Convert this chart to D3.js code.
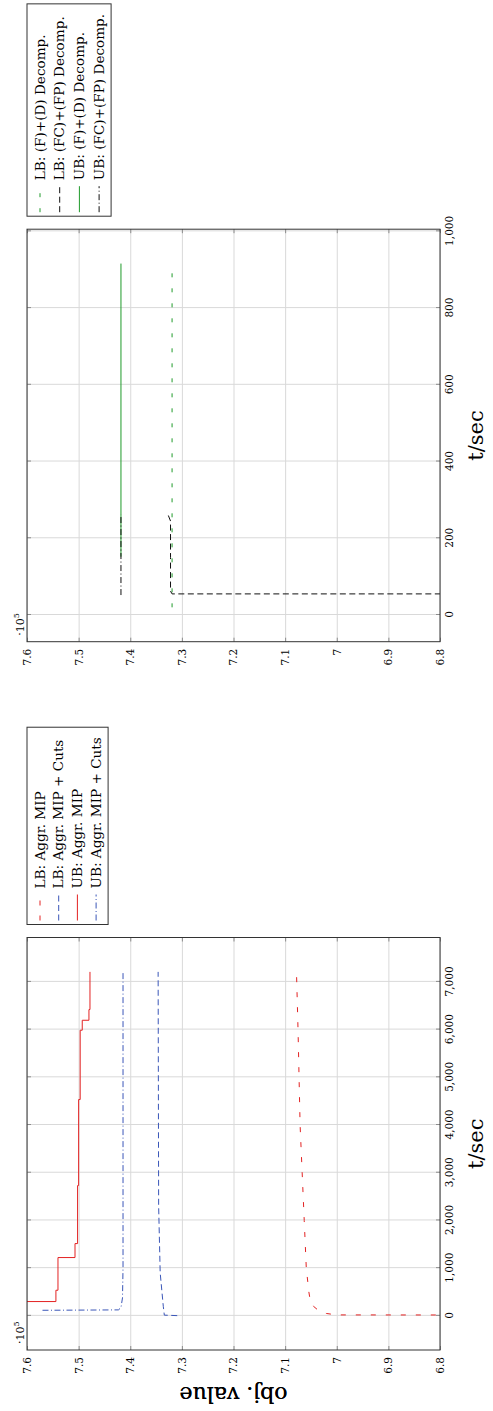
<!DOCTYPE html>
<html>
<head>
<meta charset="utf-8">
<script src="https://cdn.jsdelivr.net/npm/d3@7"></script>
<style>
  body { margin: 0; background: #fff; }
  text { font-family: "DejaVu Serif", "Liberation Serif", serif; fill: #000; }
</style>
</head>
<body>
<svg id="fig" width="493" height="1411"></svg>
<script>
// ---- shared value axis ----
var yTicks = [6.8, 6.9, 7.0, 7.1, 7.2, 7.3, 7.4, 7.5, 7.6];
var yTickLabels = ["6.8", "6.9", "7", "7.1", "7.2", "7.3", "7.4", "7.5", "7.6"];

// ---- left panel: aggregated MIP (t in sec, obj. value in 1e5) ----
var mipTicks = [0, 1000, 2000, 3000, 4000, 5000, 6000, 7000];
var lbMipT = [18, 20, 50, 100, 200, 300, 500, 700, 1000, 1500, 2000, 3000, 4000, 5000, 6000, 7210];
var lbMipV = [6.75, 7.0, 7.02, 7.034, 7.045, 7.051, 7.054, 7.056, 7.059, 7.061, 7.063, 7.067, 7.071, 7.073, 7.075, 7.078];
var lbCutsT = [5, 15, 200, 900, 2300, 7210];
var lbCutsV = [7.309, 7.334, 7.336, 7.342, 7.345, 7.346];
// incumbent is a step function
var ubMipT = [300, 300, 537, 1222, 1515, 2731, 4534, 5987, 6196, 6420, 7210];
var ubMipV = [7.65, 7.544, 7.540, 7.507, 7.502, 7.500, 7.497, 7.493, 7.480, 7.478, 7.478];
var ubCutsT = [117, 125, 170, 380, 1000, 7210];
var ubCutsV = [7.570, 7.423, 7.418, 7.415, 7.414, 7.414];

// ---- right panel: decompositions ----
var decTicks = [0, 200, 400, 600, 800, 1000];
var lbFDT = [20, 916];
var lbFDV = [7.319, 7.319];
var lbFCT = [55, 55, 62, 150, 245, 262];
var lbFCV = [6.78, 7.319, 7.322, 7.322, 7.322, 7.327];
var ubFDT = [152, 916];
var ubFDV = [7.418, 7.418];
var ubFCT = [52, 262];
var ubFCV = [7.418, 7.418];

var svg = d3.select("#fig");
// the figure sits on the page turned a quarter to the left
var page = svg.append("g").attr("transform", "translate(0,1411) rotate(-90)");

var top_y = 27, frame_w = 412.5, frame_h = 413;

function drawPanel(id, x0, series, xTicks, rowGap, stepIdx) {
	var p = page.append("g");
	var allT = [];
	series.forEach(function(s) { allT = allT.concat(s.t); });
	var ext = d3.extent(allT);
	var pad = 0.1 * (ext[1] - ext[0]);

	var x = d3.scaleLinear().domain([ext[0] - pad, ext[1] + pad]).range([x0, x0 + frame_w]);
	var y = d3.scaleLinear().domain([6.8, 7.6]).range([top_y + frame_h, top_y]);
	var bottom = top_y + frame_h;

	p.append("clipPath").attr("id", id).append("rect")
		.attr("x", x0).attr("y", top_y).attr("width", frame_w).attr("height", frame_h);

	// grid
	var gx = p.append("g").attr("transform", "translate(0," + bottom + ")")
		.call(d3.axisBottom(x).tickValues(xTicks).tickSize(-frame_h).tickFormat(""));
	var gy = p.append("g").attr("transform", "translate(" + x0 + ",0)")
		.call(d3.axisLeft(y).tickValues(yTicks).tickSize(-frame_w).tickFormat(""));
	[gx, gy].forEach(function(g) {
		g.select(".domain").remove();
		g.selectAll("line").attr("stroke", "#d9d9d9").attr("stroke-width", 1);
	});

	// inward ticks on all four sides
	var tk = [
		p.append("g").attr("transform", "translate(0," + bottom + ")").call(d3.axisBottom(x).tickValues(xTicks).tickSize(-4).tickFormat("")),
		p.append("g").attr("transform", "translate(0," + top_y + ")").call(d3.axisTop(x).tickValues(xTicks).tickSize(-4).tickFormat("")),
		p.append("g").attr("transform", "translate(" + x0 + ",0)").call(d3.axisLeft(y).tickValues(yTicks).tickSize(-4).tickFormat("")),
		p.append("g").attr("transform", "translate(" + (x0 + frame_w) + ",0)").call(d3.axisRight(y).tickValues(yTicks).tickSize(-4).tickFormat(""))
	];
	tk.forEach(function(g) {
		g.select(".domain").remove();
		g.selectAll("line").attr("stroke", "#8c8c8c");
	});

	// tick labels
	var lx = p.append("g").attr("transform", "translate(0," + bottom + ")")
		.call(d3.axisBottom(x).tickValues(xTicks).tickSize(0).tickPadding(6).tickFormat(d3.format(",")));
	var ly = p.append("g").attr("transform", "translate(" + x0 + ",0)")
		.call(d3.axisLeft(y).tickValues(yTicks).tickSize(0).tickPadding(7)
			.tickFormat(function(d, i) { return yTickLabels[i]; }));
	[lx, ly].forEach(function(g) {
		g.select(".domain").remove();
		g.attr("font-family", null).attr("font-size", 10.5);
	});

	// series
	var lines = p.append("g").attr("clip-path", "url(#" + id + ")");
	series.forEach(function(s, i) {
		var pts = s.t.map(function(t, k) { return [t, s.v[k]]; });
		var line = d3.line()
			.x(function(d) { return x(d[0]); })
			.y(function(d) { return y(d[1]); })
			.curve(stepIdx.indexOf(i) >= 0 ? d3.curveStepAfter : d3.curveLinear);
		lines.append("path")
			.attr("d", line(pts))
			.attr("fill", "none")
			.attr("stroke", s.color)
			.attr("stroke-width", 1)
			.attr("stroke-dasharray", s.dash);
	});

	// frame
	p.append("rect").attr("x", x0).attr("y", top_y).attr("width", frame_w).attr("height", frame_h)
		.attr("fill", "none").attr("stroke", "#333").attr("stroke-width", 1);

	// exponent marker
	var ex = p.append("text").attr("x", x0 + 6).attr("y", 24).attr("font-size", 11).text("·10");
	ex.append("tspan").attr("dy", -5).attr("font-size", 8).text("5");

	// axis labels
	p.append("text")
		.attr("transform", "translate(24," + (top_y + frame_h / 2) + ") rotate(-90)")
		.attr("text-anchor", "middle").attr("font-size", 22).attr("fill", "#222").text("obj. value");
	p.append("text")
		.attr("x", x0 + frame_w / 2).attr("y", 483)
		.attr("text-anchor", "middle").attr("font-size", 21).attr("fill", "#222").text("t/sec");

	// legend to the right of the frame
	var lg = p.append("g").attr("class", "legend")
		.attr("transform", "translate(" + (x0 + frame_w + 13) + "," + top_y + ")");
	var box = lg.append("rect").attr("fill", "#fff").attr("stroke", "#333").attr("stroke-width", 1);
	var maxw = 0;
	series.forEach(function(s, i) {
		var cy = 13 + i * rowGap;
		lg.append("line").attr("x1", 4).attr("x2", 30).attr("y1", cy).attr("y2", cy)
			.attr("stroke", s.color).attr("stroke-width", 1).attr("stroke-dasharray", s.dash);
		var tx = lg.append("text").attr("x", 36).attr("y", cy + 4.5).attr("font-size", 13.6).text(s.name);
		maxw = Math.max(maxw, tx.node().getComputedTextLength());
	});
	box.attr("width", 36 + maxw + 10).attr("height", 13 + 3 * rowGap + 12);
}

var red = "#e32222", blue = "#3a56b8", green = "#1f9a2a", black = "#111";

drawPanel("clipA", 61, [
	{ name: "LB: Aggr. MIP", t: lbMipT, v: lbMipV, color: red, dash: "5,10" },
	{ name: "LB: Aggr. MIP + Cuts", t: lbCutsT, v: lbCutsV, color: blue, dash: "6,3.5" },
	{ name: "UB: Aggr. MIP", t: ubMipT, v: ubMipV, color: red, dash: null },
	{ name: "UB: Aggr. MIP + Cuts", t: ubCutsT, v: ubCutsV, color: blue, dash: "6,2.5,1,2.5" }
], mipTicks, 18.7, [2]);

drawPanel("clipB", 769.3, [
	{ name: "LB: (F)+(D) Decomp.", t: lbFDT, v: lbFDV, color: green, dash: "4,11" },
	{ name: "LB: (FC)+(FP) Decomp.", t: lbFCT, v: lbFCV, color: black, dash: "6,3.5" },
	{ name: "UB: (F)+(D) Decomp.", t: ubFDT, v: ubFDV, color: green, dash: null },
	{ name: "UB: (FC)+(FP) Decomp.", t: ubFCT, v: ubFCV, color: black, dash: "6,2.5,1,2.5" }
], decTicks, 19.7, []);
</script>
</body>
</html>
